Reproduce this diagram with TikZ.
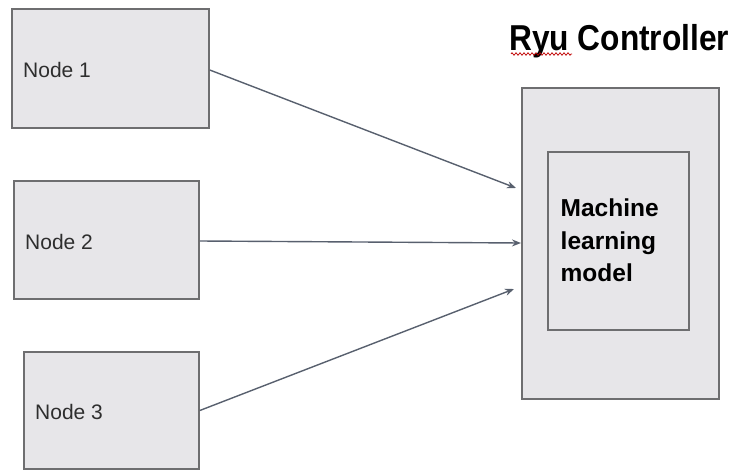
\documentclass[tikz,border=0pt]{standalone}
\usepackage{fontspec}
\setmainfont{Liberation Sans}
\usetikzlibrary{arrows.meta,decorations.pathmorphing}
\definecolor{boxfill}{HTML}{E7E6E9}
\definecolor{boxline}{HTML}{6E6E70}
\definecolor{arrowc}{HTML}{58606E}
\definecolor{txt}{HTML}{2E2E2E}
\tikzset{
  box/.style={draw=boxline, fill=boxfill, line width=1.6pt, inner sep=0pt, rectangle},
  nodelabel/.style={anchor=base west, inner sep=0pt, text=txt, font=\fontsize{21}{25}\selectfont},
  conn/.style={draw=arrowc, line width=1.4pt, -{Stealth[length=9pt,width=7pt]}},
}
\begin{document}
\begin{tikzpicture}[x=1pt,y=-1pt]
\useasboundingbox (0,0) rectangle (734,471);
% left nodes
\node[box, minimum width=197pt, minimum height=119pt] (n1) at (110.5,68.5) {};
\node[box, minimum width=185pt, minimum height=118pt] (n2) at (106.5,240) {};
\node[box, minimum width=175pt, minimum height=117pt] (n3) at (111.5,410.5) {};
\node[nodelabel] (l1) at (23,77) {Node 1};
\node[nodelabel] (l2) at (25,249) {Node 2};
\node[nodelabel] (l3) at (35,419) {Node 3};
% controller
\node[box, minimum width=197pt, minimum height=311pt] (ryu) at (620.5,243.5) {};
\node[box, minimum width=141pt, minimum height=178pt] (ml) at (618.5,241) {};
\node[anchor=north west, inner sep=0pt, align=left, text=black,
      font=\fontsize{24.5}{32.5}\selectfont\bfseries] (mltext) at (560.5,199)
      {Machine\\learning\\model};
\node[anchor=base west, inner sep=0pt, text=black] (title) at (509,50)
      {\scalebox{0.88}[1]{\fontsize{36}{40}\selectfont\bfseries Ryu Controller}};
\coordinate (w1) at (511,54);
\coordinate (w2) at (572,54);
\draw[red!75!black, line width=0.7pt, decorate,
      decoration={zigzag, amplitude=1.3pt, segment length=4pt}] (w1) -- (w2);
% connectors
\coordinate (t1) at (516,188);
\coordinate (t2) at (521,243);
\coordinate (t3) at (514,289);
\draw[conn] ([yshift=-1.5pt]n1.east) -- (t1);
\draw[conn] ([yshift=-1pt]n2.east) -- (t2);
\draw[conn] (n3.east) -- (t3);
\end{tikzpicture}
\end{document}
